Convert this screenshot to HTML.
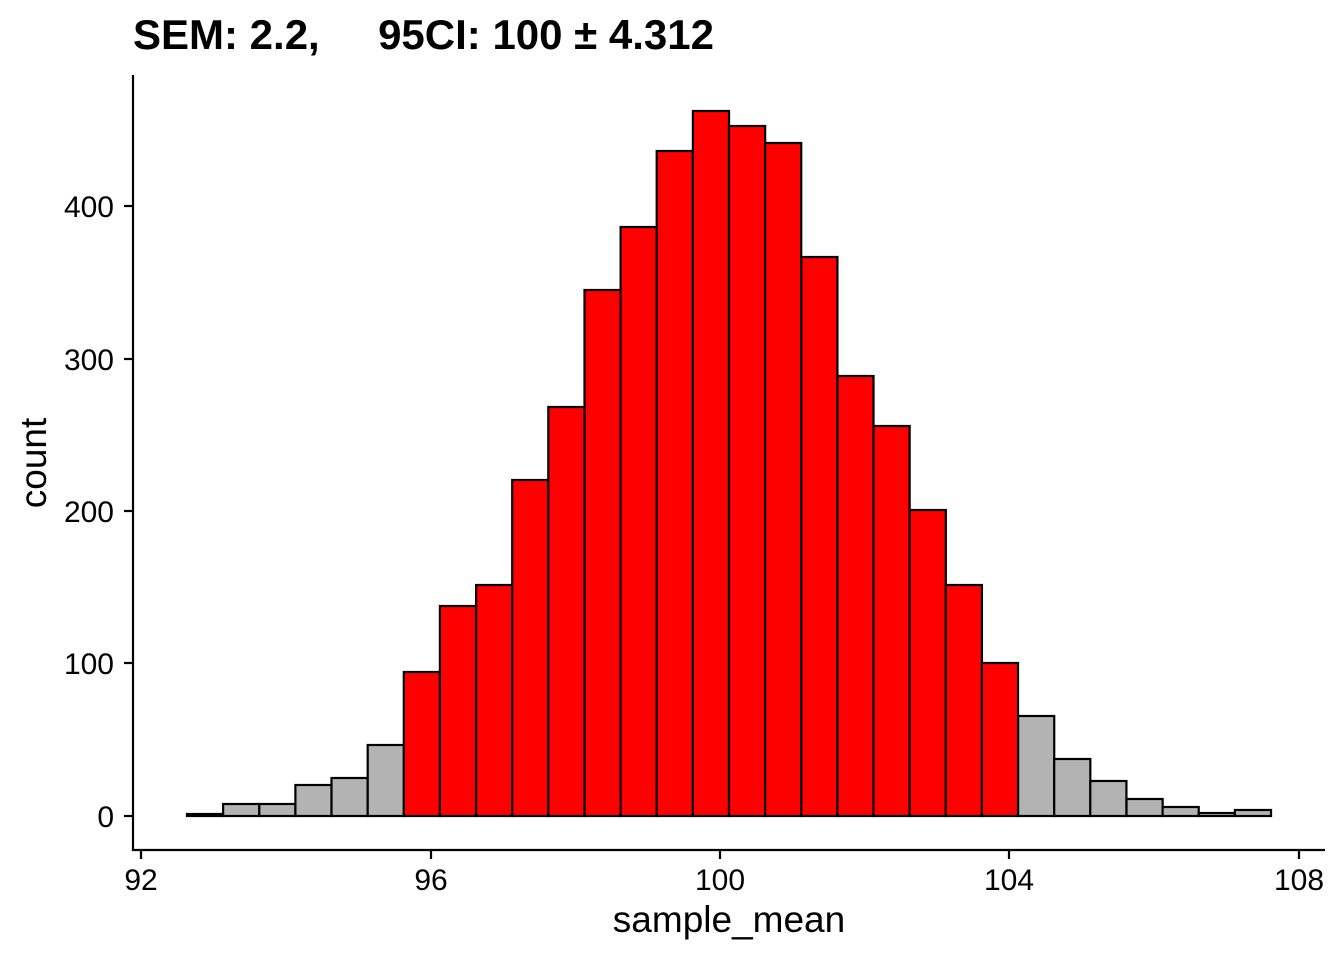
<!DOCTYPE html>
<html><head><style>body{margin:0;background:#fff}</style></head><body>
<svg width="1344" height="960" xmlns="http://www.w3.org/2000/svg" font-family="Liberation Sans, Arial, sans-serif">
<rect width="1344" height="960" fill="#fff"/>
<text x="133" y="49" font-size="42" font-weight="bold" fill="#000" xml:space="preserve">SEM: 2.2,     95CI: 100 ± 4.312</text>
<g stroke="#000" stroke-width="2.2">
<rect x="187.0" y="814" width="36.13" height="2" fill="#b3b3b3"/>
<rect x="223.1" y="804" width="36.13" height="12" fill="#b3b3b3"/>
<rect x="259.3" y="804" width="36.13" height="12" fill="#b3b3b3"/>
<rect x="295.4" y="785" width="36.13" height="31" fill="#b3b3b3"/>
<rect x="331.5" y="778" width="36.13" height="38" fill="#b3b3b3"/>
<rect x="367.7" y="745" width="36.13" height="71" fill="#b3b3b3"/>
<rect x="403.8" y="672" width="36.13" height="144" fill="#ff0000"/>
<rect x="439.9" y="606" width="36.13" height="210" fill="#ff0000"/>
<rect x="476.1" y="585" width="36.13" height="231" fill="#ff0000"/>
<rect x="512.2" y="480" width="36.13" height="336" fill="#ff0000"/>
<rect x="548.3" y="407" width="36.13" height="409" fill="#ff0000"/>
<rect x="584.5" y="290" width="36.13" height="526" fill="#ff0000"/>
<rect x="620.6" y="227" width="36.13" height="589" fill="#ff0000"/>
<rect x="656.7" y="151" width="36.13" height="665" fill="#ff0000"/>
<rect x="692.9" y="111" width="36.13" height="705" fill="#ff0000"/>
<rect x="729.0" y="126" width="36.13" height="690" fill="#ff0000"/>
<rect x="765.1" y="143" width="36.13" height="673" fill="#ff0000"/>
<rect x="801.3" y="257" width="36.13" height="559" fill="#ff0000"/>
<rect x="837.4" y="376" width="36.13" height="440" fill="#ff0000"/>
<rect x="873.5" y="426" width="36.13" height="390" fill="#ff0000"/>
<rect x="909.7" y="510" width="36.13" height="306" fill="#ff0000"/>
<rect x="945.8" y="585" width="36.13" height="231" fill="#ff0000"/>
<rect x="981.9" y="663" width="36.13" height="153" fill="#ff0000"/>
<rect x="1018.1" y="716" width="36.13" height="100" fill="#b3b3b3"/>
<rect x="1054.2" y="759" width="36.13" height="57" fill="#b3b3b3"/>
<rect x="1090.3" y="781" width="36.13" height="35" fill="#b3b3b3"/>
<rect x="1126.5" y="799" width="36.13" height="17" fill="#b3b3b3"/>
<rect x="1162.6" y="807" width="36.13" height="9" fill="#b3b3b3"/>
<rect x="1198.7" y="813" width="36.13" height="3" fill="#b3b3b3"/>
<rect x="1234.9" y="810" width="36.13" height="6" fill="#b3b3b3"/>
</g>
<g stroke="#000" stroke-width="2.2">
<line x1="133" y1="75" x2="133" y2="851"/>
<line x1="132" y1="850" x2="1325" y2="850"/>
<line x1="124" y1="816" x2="133" y2="816"/>
<line x1="124" y1="663" x2="133" y2="663"/>
<line x1="124" y1="511" x2="133" y2="511"/>
<line x1="124" y1="359" x2="133" y2="359"/>
<line x1="124" y1="206" x2="133" y2="206"/>
<line x1="141" y1="850" x2="141" y2="859"/>
<line x1="431" y1="850" x2="431" y2="859"/>
<line x1="720" y1="850" x2="720" y2="859"/>
<line x1="1009" y1="850" x2="1009" y2="859"/>
<line x1="1299" y1="850" x2="1299" y2="859"/>
</g>
<g font-size="30" fill="#000" text-anchor="end">
<text x="114" y="827">0</text>
<text x="114" y="674">100</text>
<text x="114" y="522">200</text>
<text x="114" y="370">300</text>
<text x="114" y="217">400</text>
</g>
<g font-size="30" fill="#000" text-anchor="middle">
<text x="141" y="890">92</text>
<text x="431" y="890">96</text>
<text x="720" y="890">100</text>
<text x="1009" y="890">104</text>
<text x="1299" y="890">108</text>
<text x="729" y="932" font-size="37">sample_mean</text>
<text transform="translate(46,463) rotate(-90)" font-size="37">count</text>
</g>
</svg>
</body></html>
